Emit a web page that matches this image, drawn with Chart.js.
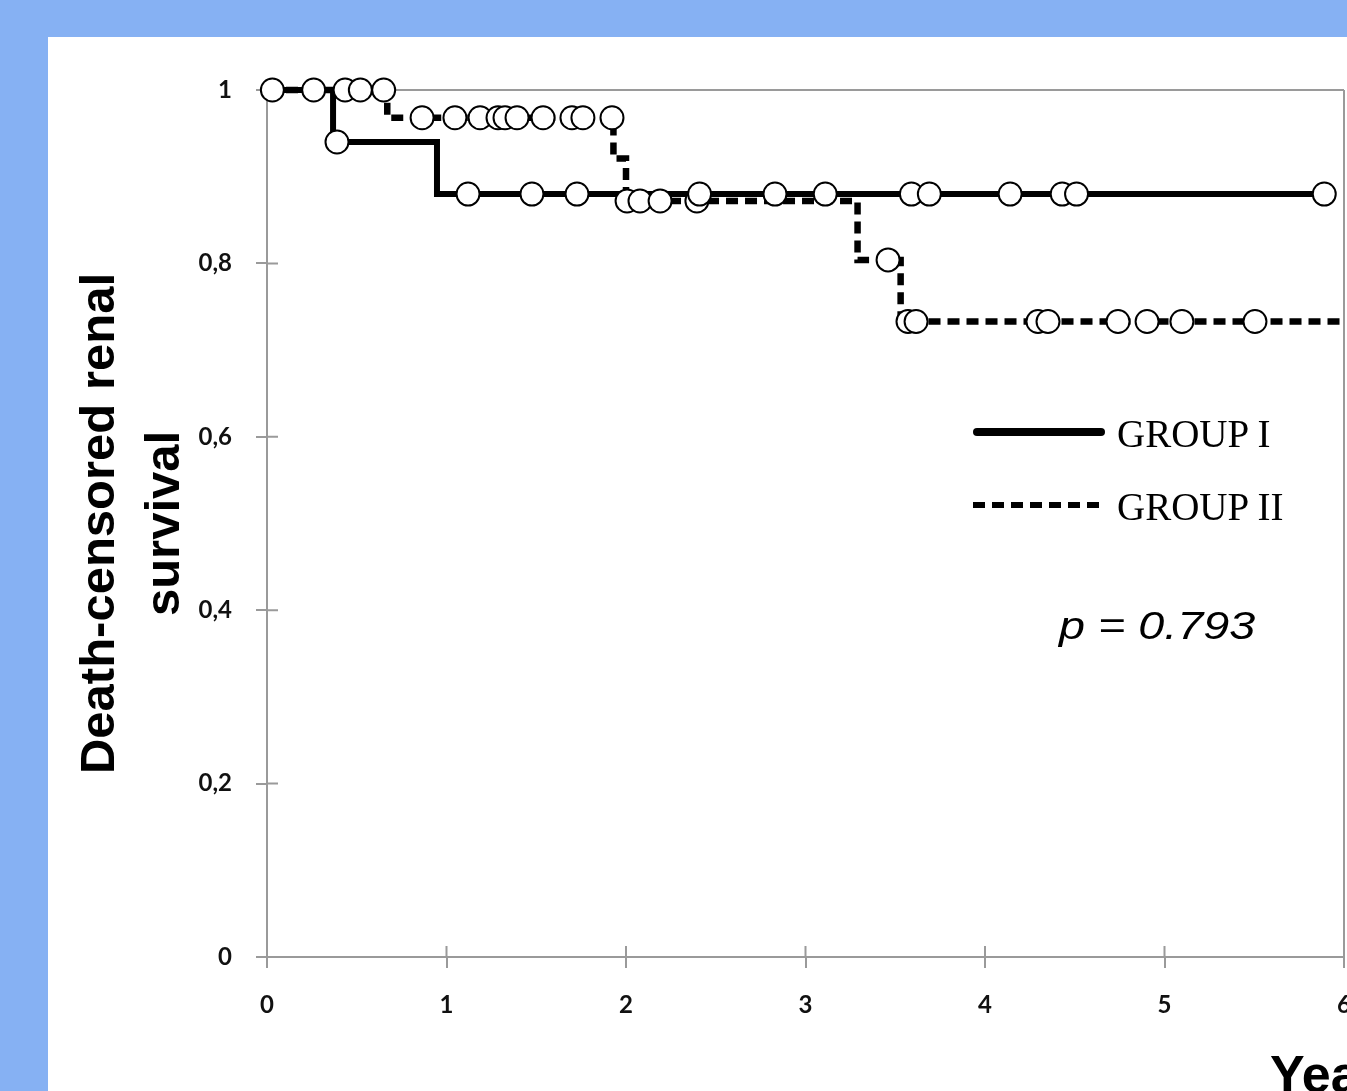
<!DOCTYPE html>
<html>
<head>
<meta charset="utf-8">
<script src="https://cdn.jsdelivr.net/npm/chart.js@4.4.1/dist/chart.umd.min.js"></script>
<style>
html,body{margin:0;padding:0;width:1347px;height:1091px;overflow:hidden;background:#86b1f3;}
#panel{position:absolute;left:48px;top:37px;width:1400px;height:1100px;background:#ffffff;}
#wrap{position:absolute;left:0;top:0;width:1400px;height:1091px;}
#c{position:absolute;left:0;top:0;}
.lbl{position:absolute;white-space:nowrap;color:#000;}
</style>
</head>
<body>
<div id="panel"></div>
<div id="wrap"><canvas id="c" width="1400" height="1091"></canvas></div>
<div class="lbl" style="left:1117px;top:414px;font:39px/1 'Liberation Serif','Times New Roman',serif;">GROUP I</div>
<div class="lbl" style="left:1117px;top:487px;font:39px/1 'Liberation Serif','Times New Roman',serif;">GROUP II</div>
<div class="lbl" style="left:1059px;top:607px;font:italic 38px/1 'Liberation Sans',Arial,sans-serif;transform:scaleX(1.23);transform-origin:left top;">p = 0.793</div>
<div class="lbl" style="left:1270px;top:1048px;font:bold 52px/1 'Liberation Sans',Arial,sans-serif;">Years</div>
<script>
// ---- data ----
const xTickLabels = ['0', '1', '2', '3', '4', '5', '6'];
const yTickLabels = ['0', '0,2', '0,4', '0,6', '0,8', '1'];

// Group I: Kaplan-Meier step points (time in years, survival)
const group1Times = [0, 0.368, 0.947, 5.89];
const group1Surv  = [1, 0.940, 0.880, 0.880];
// Group I censored observations
const group1CensorTimes = [0.03, 0.26, 0.39, 1.12, 1.476, 1.727, 2.41, 2.83, 3.11, 3.59, 3.69, 4.14, 4.43, 4.51, 5.89];
const group1CensorSurv  = [1, 1, 0.940, 0.880, 0.880, 0.880, 0.880, 0.880, 0.880, 0.880, 0.880, 0.880, 0.880, 0.880, 0.880];

// Group II: Kaplan-Meier step points
const group2Times = [0, 0.67, 1.93, 2.0, 3.29, 3.53, 6.0];
const group2Surv  = [1, 0.968, 0.921, 0.872, 0.804, 0.733, 0.733];
// Group II censored observations
const group2CensorTimes = [0.435, 0.52, 0.65, 0.864, 1.047, 1.187, 1.287, 1.326, 1.393, 1.538, 1.699, 1.760, 1.922,
                           2.006, 2.078, 2.19, 2.395, 3.46, 3.571, 3.616, 4.295, 4.351, 4.741, 4.903, 5.097, 5.504];
const group2CensorSurv  = [1, 1, 1, 0.968, 0.968, 0.968, 0.968, 0.968, 0.968, 0.968, 0.968, 0.968, 0.968,
                           0.872, 0.872, 0.872, 0.872, 0.804, 0.733, 0.733, 0.733, 0.733, 0.733, 0.733, 0.733, 0.733];

const seriesNames = ['GROUP I', 'GROUP II'];

function pts(xs, ys) { return xs.map((x, i) => ({x: x, y: ys[i]})); }

const AXIS = '#9a9a9a';
const tickFont = {family: "Lato, 'Open Sans', sans-serif", weight: 'bold', size: 24};

const framePlugin = {
  id: 'frame',
  beforeDatasetsDraw(chart) {
    const ctx = chart.ctx;
    const {left, right, top, bottom} = chart.chartArea;
    ctx.save();
    ctx.strokeStyle = AXIS;
    ctx.lineWidth = 2;
    ctx.beginPath();
    ctx.moveTo(left, top); ctx.lineTo(right, top);
    ctx.moveTo(right, top); ctx.lineTo(right, bottom);
    const ys = chart.scales.y, xs = chart.scales.x;
    ys.ticks.forEach(t => { const p = ys.getPixelForValue(t.value); ctx.moveTo(left, p); ctx.lineTo(left + 11, p); });
    xs.ticks.forEach(t => { const p = xs.getPixelForValue(t.value); ctx.moveTo(p, bottom); ctx.lineTo(p, bottom - 11); });
    ctx.stroke();
    ctx.restore();
  }
};

const legendPlugin = {
  id: 'legendLines',
  afterDraw(chart) {
    const ctx = chart.ctx;
    ctx.save();
    ctx.strokeStyle = '#000';
    ctx.lineWidth = 8;
    ctx.lineCap = 'round';
    ctx.beginPath(); ctx.moveTo(977, 432); ctx.lineTo(1101, 432); ctx.stroke();
    ctx.lineWidth = 6;
    ctx.lineCap = 'butt';
    ctx.setLineDash([12, 7]);
    ctx.beginPath(); ctx.moveTo(973, 505); ctx.lineTo(1104, 505); ctx.stroke();
    ctx.restore();
  }
};

new Chart(document.getElementById('c'), {
  type: 'scatter',
  data: {
    datasets: [
      { label: seriesNames[0] + ' censored', data: pts(group1CensorTimes, group1CensorSurv), showLine: false,
        pointRadius: 11.5, pointBorderWidth: 2, pointBackgroundColor: '#fff', pointBorderColor: '#000', order: 0, clip: false },
      { label: seriesNames[1] + ' censored', data: pts(group2CensorTimes, group2CensorSurv), showLine: false,
        pointRadius: 11.5, pointBorderWidth: 2, pointBackgroundColor: '#fff', pointBorderColor: '#000', order: 0, clip: false },
      { label: seriesNames[0], data: pts(group1Times, group1Surv), showLine: true, stepped: true,
        borderColor: '#000', borderWidth: 6, pointRadius: 0, fill: false, order: 1, clip: false },
      { label: seriesNames[1], data: pts(group2Times, group2Surv), showLine: true, stepped: true,
        borderColor: '#000', borderWidth: 6.5, borderDash: [12, 7], pointRadius: 0, fill: false, order: 1, clip: false }
    ]
  },
  options: {
    responsive: false,
    animation: false,
    devicePixelRatio: 1,
    events: [],
    layout: {padding: {left: 0, top: 90, right: 56, bottom: 0}},
    plugins: {legend: {display: false}, tooltip: {enabled: false}, title: {display: false}},
    scales: {
      x: {
        type: 'linear', min: 0, max: 6,
        ticks: {stepSize: 1, padding: 23, font: tickFont, color: '#111', maxRotation: 0,
                callback: (v, i) => xTickLabels[i]},
        grid: {display: true, drawOnChartArea: false, drawTicks: true, tickLength: 11, color: AXIS, lineWidth: 2},
        border: {display: true, color: AXIS, width: 2},
        afterFit(s) { s.height = 134; }
      },
      y: {
        type: 'linear', min: 0, max: 1,
        ticks: {stepSize: 0.2, padding: 24, font: tickFont, color: '#111',
                callback: (v, i) => yTickLabels[i]},
        grid: {display: true, drawOnChartArea: false, drawTicks: true, tickLength: 11, color: AXIS, lineWidth: 2},
        border: {display: true, color: AXIS, width: 2},
        title: {display: true, text: ['Death-censored renal', 'survival'], color: '#000',
                font: {family: "'Liberation Sans', Arial, sans-serif", weight: 'bold', size: 49, lineHeight: 1.3265},
                padding: {top: 67.5, bottom: 0}},
        afterFit(s) { s.width = 267; }
      }
    }
  },
  plugins: [framePlugin, legendPlugin]
});
</script>
</body>
</html>
